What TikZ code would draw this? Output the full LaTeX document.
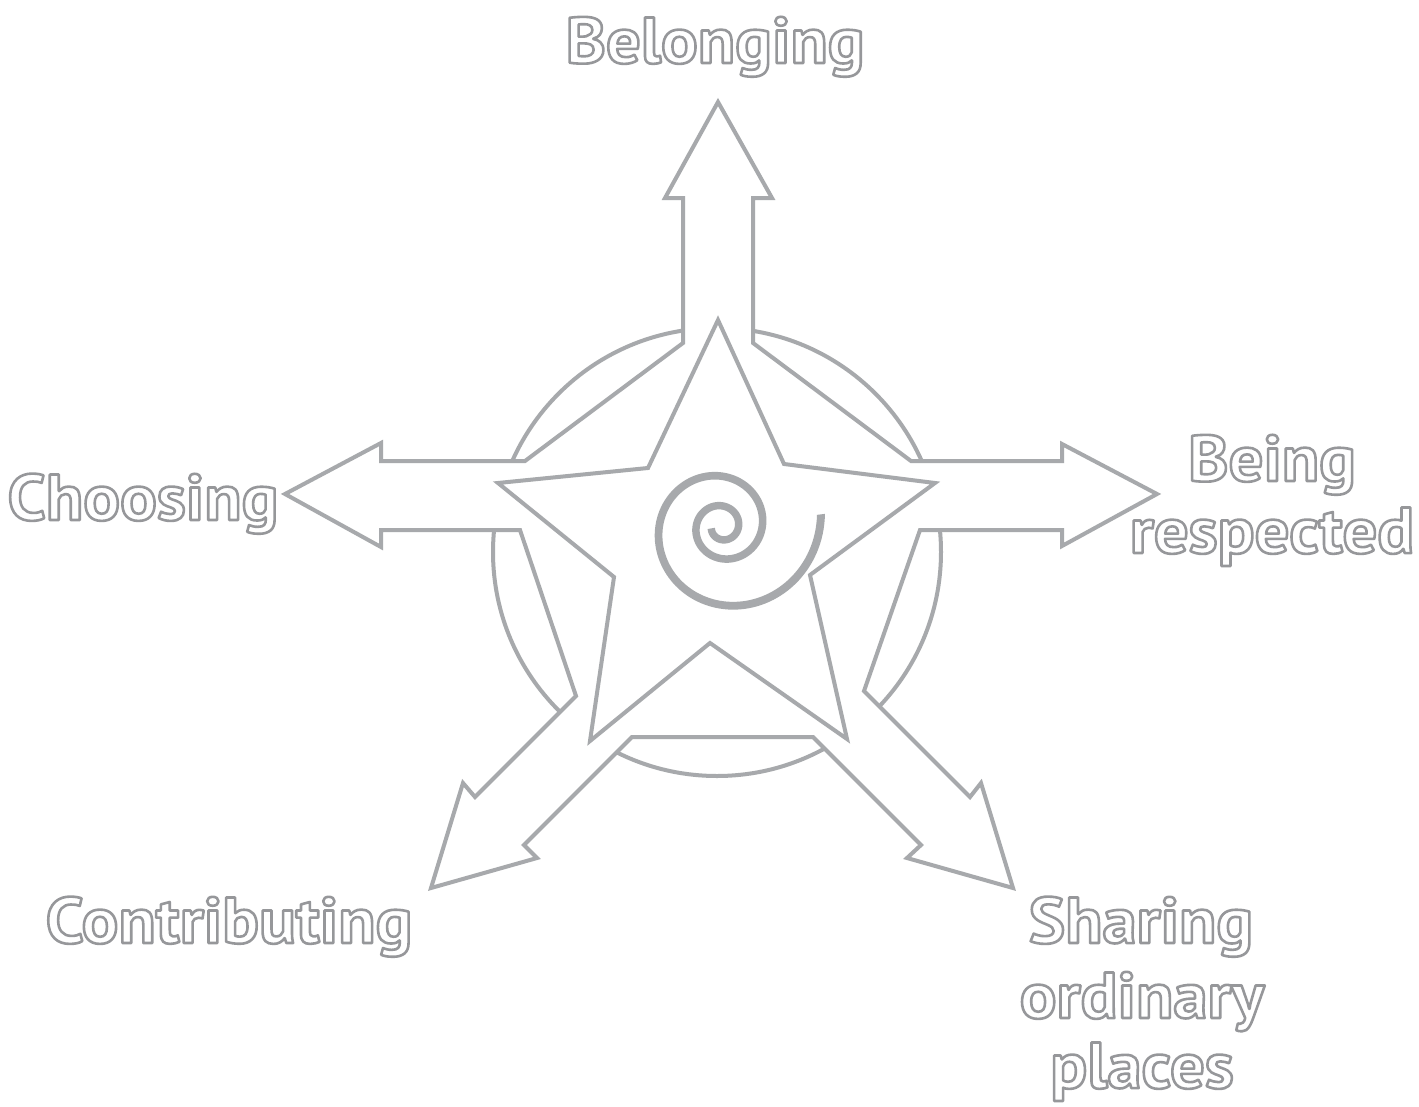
\documentclass[tikz,border=0pt]{standalone}
\usepackage{fontspec}
\setmainfont{PT Sans}[BoldFeatures={FakeStretch=1.055}]
\definecolor{lg}{RGB}{167,169,172}
\definecolor{tg}{RGB}{150,151,154}
\newcommand\hollow[1]{\special{pdf:literal direct 1 Tr 2.6 w 1 j}#1\special{pdf:literal direct 0 Tr}}
\tikzset{
  outl/.style={draw=lg, line width=4pt, line join=miter},
  lbl/.style={anchor=base, text=tg, font=\fontsize{65}{72}\selectfont\bfseries, inner sep=0pt, align=center},
}
\begin{document}
\begin{tikzpicture}[x=1pt,y=-1pt]
\useasboundingbox[fill=white] (0,0) rectangle (1419,1106);
% circle
\draw[outl] (717,552) circle (224);
% arrows with connectors
\filldraw[outl, fill=white]
 (683,343) -- (683,198) -- (665,198) -- (718,102) -- (772,198) -- (753,198) -- (753,343)
 -- (911,461) -- (1062,461) -- (1062,444) -- (1157,494) -- (1062,546) -- (1062,530) -- (920,530)
 -- (864,691) -- (970,797) -- (981,783) -- (1013,888) -- (907,858) -- (921,845) -- (813,737)
 -- (632,737) -- (524,845) -- (537,858) -- (431,888) -- (463,783) -- (475,797) -- (576,696)
 -- (520,530) -- (381,530) -- (381,547) -- (285,494) -- (381,443) -- (381,461) -- (525,461) -- cycle;
% star
\filldraw[outl, fill=white]
 (718,320) -- (784,464) -- (935,483) -- (810,575) -- (847,739) -- (710,643)
 -- (590,741) -- (614,577) -- (498,483) -- (648,468) -- cycle;
% spiral
\begin{scope}[shift={(722,526.5)}]
\fill[lg] plot[domain=-7:890, samples=320, variable=\t]
  (\t:{98*exp(-0.0024793*\t) + (7.4+0.006*98*exp(-0.0024793*\t))/2})
  -- plot[domain=890:-7, samples=320, variable=\t]
  (\t:{max(0.5,98*exp(-0.0024793*\t) - (7.4+0.006*98*exp(-0.0024793*\t))/2)}) -- cycle;
\end{scope}
% labels
\node[lbl] (belonging) at (715,63) {\hollow{Belonging}};
\node[lbl] (choosing) at (143,520) {\hollow{Choosing}};
\node[lbl] (being) at (1272,481) {\hollow{Being}};
\node[lbl] (respected) at (1272,553) {\hollow{respected}};
\node[lbl] (contributing) at (229,943) {\hollow{Contributing}};
\node[lbl] (sharing) at (1141,943) {\hollow{Sharing}};
\node[lbl] (ordinary) at (1142,1018) {\hollow{ordinary}};
\node[lbl] (places) at (1142,1088) {\hollow{places}};
\end{tikzpicture}
\end{document}
